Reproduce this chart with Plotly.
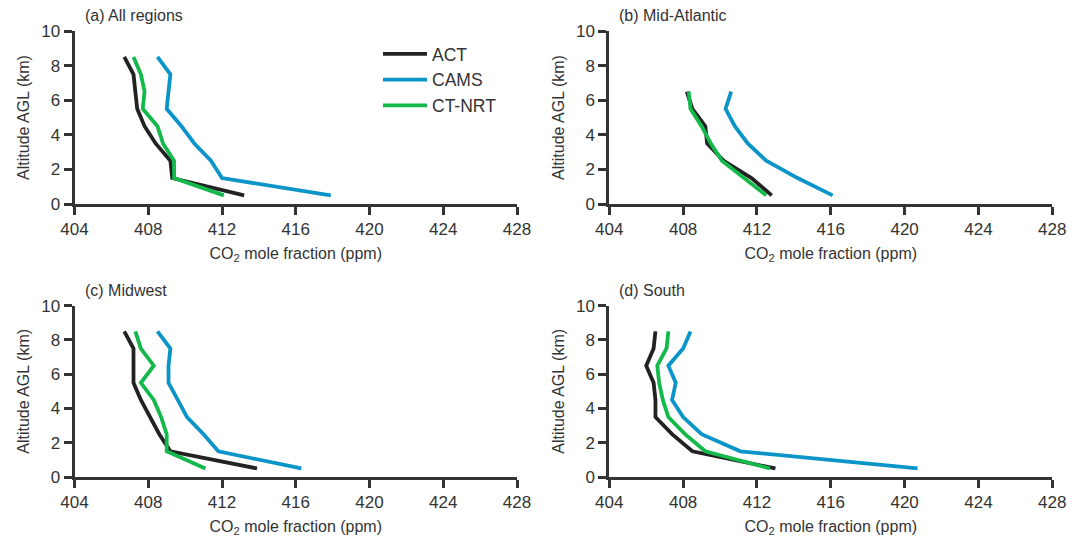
import plotly.graph_objects as go

altitude_9 = [0.5, 1.5, 2.5, 3.5, 4.5, 5.5, 6.5, 7.5, 8.5]
altitude_7 = [0.5, 1.5, 2.5, 3.5, 4.5, 5.5, 6.5]

# (a) All regions
all_act = [413.2, 409.3, 409.2, 408.4, 407.8, 407.4, 407.3, 407.2, 406.7]
all_cams = [417.9, 412.0, 411.4, 410.5, 409.8, 409.0, 409.1, 409.2, 408.5]
all_ctnrt = [412.1, 409.4, 409.4, 408.8, 408.5, 407.7, 407.8, 407.6, 407.2]

# (b) Mid-Atlantic
ma_act = [412.8, 411.7, 410.2, 409.3, 409.2, 408.5, 408.2]
ma_cams = [416.1, 414.2, 412.5, 411.5, 410.8, 410.3, 410.6]
ma_ctnrt = [412.5, 411.3, 410.1, 409.5, 409.0, 408.4, 408.3]

# (c) Midwest
mw_act = [413.9, 409.2, 408.6, 408.1, 407.6, 407.2, 407.2, 407.2, 406.7]
mw_cams = [416.3, 411.8, 411.0, 410.1, 409.6, 409.1, 409.1, 409.2, 408.5]
mw_ctnrt = [411.1, 409.0, 409.0, 408.7, 408.3, 407.6, 408.3, 407.6, 407.3]

# (d) South
so_act = [413.0, 408.5, 407.4, 406.5, 406.5, 406.4, 406.0, 406.4, 406.5]
so_cams = [420.7, 411.1, 409.0, 408.0, 407.4, 407.6, 407.2, 408.0, 408.4]
so_ctnrt = [412.7, 409.2, 408.1, 407.2, 406.9, 406.7, 406.6, 407.1, 407.2]

series_names = ["ACT", "CAMS", "CT-NRT"]
series_colors = ["#222222", "#0a94c8", "#13b94a"]
panel_titles = ["(a) All regions", "(b) Mid-Atlantic", "(c) Midwest", "(d) South"]
x_ticks = [404, 408, 412, 416, 420, 424, 428]
y_ticks = [0, 2, 4, 6, 8, 10]

panels = [
    (altitude_9, [all_act, all_cams, all_ctnrt]),
    (altitude_7, [ma_act, ma_cams, ma_ctnrt]),
    (altitude_9, [mw_act, mw_cams, mw_ctnrt]),
    (altitude_9, [so_act, so_cams, so_ctnrt]),
]

W, H = 1085, 537
x_domains = [[74.5 / W, 517 / W], [609.3 / W, 1052.3 / W]]
y_domains = [[(H - 204) / H, (H - 31) / H], [(H - 477) / H, (H - 305.7) / H]]

FONT = "Liberation Sans, Arial, Helvetica, sans-serif"
TXT = "#333333"
AX = "#333333"

fig = go.Figure()
layout = {}
for i, (alt, vals) in enumerate(panels):
    r, c = divmod(i, 2)
    xa = "x" if i == 0 else f"x{i+1}"
    ya = "y" if i == 0 else f"y{i+1}"
    for j, v in enumerate(vals):
        fig.add_trace(go.Scatter(
            x=v, y=alt, mode="lines", name=series_names[j],
            line=dict(color=series_colors[j], width=3.8),
            xaxis=xa, yaxis=ya, showlegend=(i == 0),
        ))
    xkey = "xaxis" if i == 0 else f"xaxis{i+1}"
    ykey = "yaxis" if i == 0 else f"yaxis{i+1}"
    layout[xkey] = dict(
        domain=x_domains[c], anchor=ya, range=[404, 428], tickvals=x_ticks,
        showline=True, linecolor=AX, linewidth=3, ticks="outside", ticklen=8,
        tickwidth=3, tickcolor=AX, showgrid=False, zeroline=False,
        automargin=False,
        tickfont=dict(size=17, color=TXT, family=FONT),
        title=dict(text="CO<sub>2</sub> mole fraction (ppm)", standoff=10,
                   font=dict(size=16, color=TXT, family=FONT)),
    )
    layout[ykey] = dict(
        domain=y_domains[r], anchor=xa, range=[0, 10], tickvals=y_ticks,
        showline=True, linecolor=AX, linewidth=3, ticks="outside", ticklen=8,
        tickwidth=3, tickcolor=AX, showgrid=False, zeroline=False,
        automargin=False,
        tickfont=dict(size=17, color=TXT, family=FONT),
        title=dict(text="Altitude AGL (km)", standoff=8,
                   font=dict(size=16, color=TXT, family=FONT)),
    )
    fig.add_annotation(
        text=panel_titles[i], xref=f"{xa} domain", yref=f"{ya} domain",
        x=0, y=1, xanchor="left", yanchor="bottom", xshift=8, yshift=5,
        showarrow=False, font=dict(size=16, color=TXT, family=FONT),
    )

fig.update_layout(
    **layout,
    width=W, height=H,
    margin=dict(l=0, r=0, t=0, b=0, autoexpand=False),
    plot_bgcolor="white", paper_bgcolor="white",
    font=dict(family=FONT, color=TXT),
    legend=dict(x=378 / W, y=(H - 36) / H, xanchor="left", yanchor="top",
                itemwidth=44,
                font=dict(size=17.5, color=TXT, family=FONT),
                bgcolor="rgba(0,0,0,0)", borderwidth=0),
)

fig.write_html("out.html")
